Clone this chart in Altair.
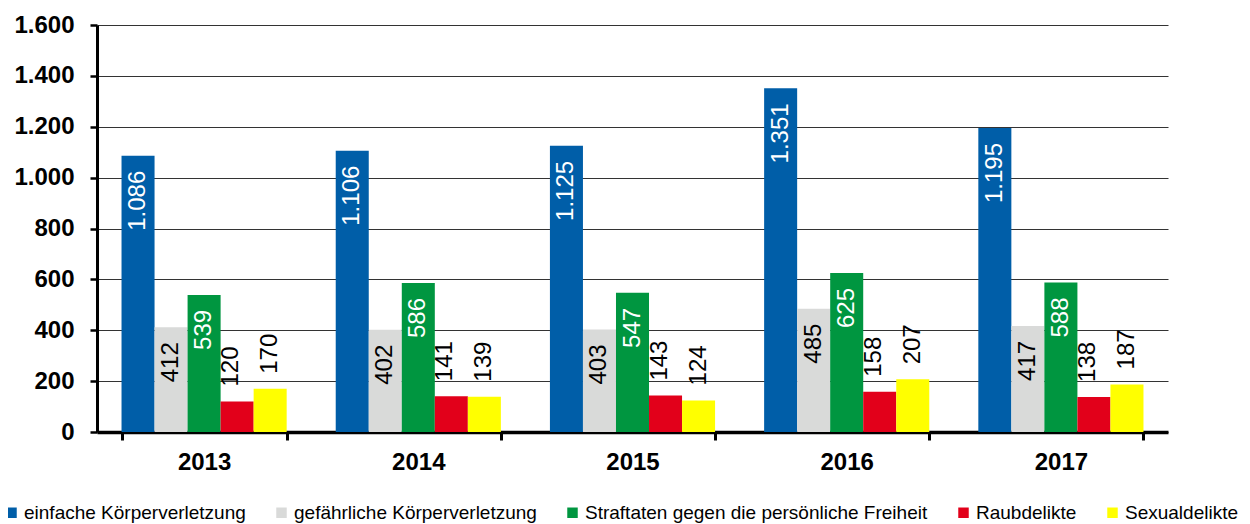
import altair as alt
import pandas as pd

years = ["2013", "2014", "2015", "2016", "2017"]
series = [
    "einfache Körperverletzung",
    "gefährliche Körperverletzung",
    "Straftaten gegen die persönliche Freiheit",
    "Raubdelikte",
    "Sexualdelikte",
]
einfache = [1086, 1106, 1125, 1351, 1195]
gefaehrliche = [412, 402, 403, 485, 417]
freiheit = [539, 586, 547, 625, 588]
raub = [120, 141, 143, 158, 138]
sexual = [170, 139, 124, 207, 187]
colors = ["#005EA8", "#D9DAD9", "#009640", "#E2001A", "#FFFF00"]

values_by_series = [einfache, gefaehrliche, freiheit, raub, sexual]
rows = []
for s, vals in zip(series, values_by_series):
    for y, v in zip(years, vals):
        rows.append({"year": y, "series": s, "value": v})
df = pd.DataFrame(rows)

FONT = "Liberation Sans"

x_enc = alt.X(
    "year:N",
    sort=years,
    scale=alt.Scale(paddingInner=0.229, paddingOuter=0.1145),
    axis=alt.Axis(
        title=None,
        labelAngle=0,
        labelFontSize=24,
        labelFontWeight="bold",
        labelColor="black",
        labelPadding=10,
        domainColor="black",
        domainWidth=3.5,
        tickColor="black",
        tickWidth=3,
        tickSize=8,
        tickBand="extent",
        grid=False,
    ),
)
xoff_enc = alt.XOffset(
    "series:N", sort=series, scale=alt.Scale(domain=series, paddingInner=0, paddingOuter=0)
)
y_enc = alt.Y(
    "value:Q",
    scale=alt.Scale(domain=[0, 1600], nice=False),
    axis=alt.Axis(
        title=None,
        values=[0, 200, 400, 600, 800, 1000, 1200, 1400, 1600],
        labelExpr="replace(format(datum.value, ','), ',', '.')",
        labelFontSize=24,
        labelFontWeight="bold",
        labelColor="black",
        labelPadding=16,
        domainColor="black",
        domainWidth=3,
        tickColor="black",
        tickWidth=2.5,
        tickSize=7,
        grid=True,
        gridColor="#333333",
        gridWidth=1,
    ),
)

base = alt.Chart(df).encode(x=x_enc, xOffset=xoff_enc, y=y_enc)

bars = base.mark_bar().encode(
    color=alt.Color(
        "series:N",
        scale=alt.Scale(domain=series, range=colors),
        legend=alt.Legend(
            title=None,
            orient="none",
            legendX=-95,
            legendY=478,
            padding=0,
            direction="horizontal",
            symbolType="square",
            symbolSize=110,
            symbolStrokeWidth=0,
            labelFontSize=19,
            labelFont=FONT,
            labelColor="black",
            labelLimit=600,
            labelOffset=3,
            columnPadding=26,
        ),
    )
)

label_calc = "replace(format(datum.value, ','), ',', '.')"

inside = (
    base.transform_filter(alt.FieldOneOfPredicate(field="series", oneOf=series[:3]))
    .transform_calculate(label=label_calc)
    .mark_text(angle=270, align="right", baseline="middle", dx=-15, fontSize=24, font=FONT)
    .encode(
        text="label:N",
        color=alt.condition(
            alt.FieldOneOfPredicate(field="series", oneOf=[series[0], series[2]]),
            alt.value("white"),
            alt.value("black"),
        ),
    )
)

outside_raub = (
    base.transform_filter(alt.FieldEqualPredicate(field="series", equal=series[3]))
    .transform_calculate(label=label_calc)
    .mark_text(angle=270, align="left", baseline="middle", dx=15, dy=-6, fontSize=24, font=FONT, color="black")
    .encode(text="label:N")
)

outside_sex = (
    base.transform_filter(alt.FieldEqualPredicate(field="series", equal=series[4]))
    .transform_calculate(label=label_calc)
    .mark_text(angle=270, align="left", baseline="middle", dx=15, fontSize=24, font=FONT, color="black")
    .encode(text="label:N")
)

chart = (
    alt.layer(bars, inside, outside_raub, outside_sex)
    .properties(
        width=1071,
        height=407,
        autosize=alt.AutoSizeParams(type="none"),
        padding={"left": 89, "top": 17, "right": 74, "bottom": 92},
    )
    .configure(font=FONT)
    .configure_view(stroke=None)
)

chart.save("out.html", embed_options={"renderer": "svg", "actions": False})
